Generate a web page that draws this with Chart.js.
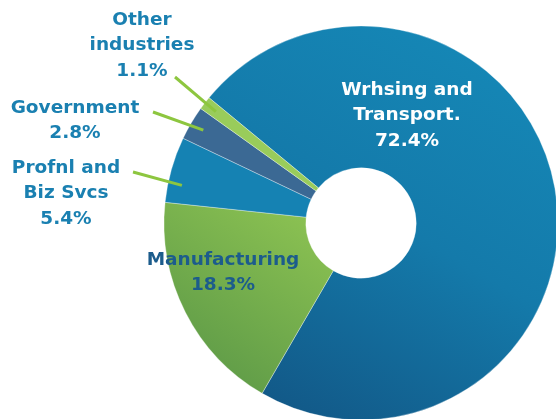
<!DOCTYPE html>
<html>
<head>
<meta charset="utf-8">
<script src="https://cdn.jsdelivr.net/npm/chart.js@4"></script>
<style>
  html, body { margin: 0; padding: 0; background: #fff; overflow: hidden; }
  #wrap { position: absolute; left: 0; top: 0; width: 600px; height: 446px; }
</style>
</head>
<body>
<div id="wrap"><canvas id="pie" width="600" height="446"></canvas></div>
<script>
// values (percent of total)
const categories = ["Wrhsing and Transport.", "Manufacturing", "Profnl and Biz Svcs", "Government", "Other industries"];
const shares = [72.4, 18.3, 5.4, 2.8, 1.1];
const labelLines = [
  ["Wrhsing and", "Transport.", "72.4%"],
  ["Manufacturing", "18.3%"],
  ["Profnl and", "Biz Svcs", "5.4%"],
  ["Government", "2.8%"],
  ["Other", "industries", "1.1%"],
];

const FONT = "bold 18.5px 'DejaVu Sans'";
const TEXT_BLUE = "#1a80b1";
const LEADER = "#8dc63f";

// where each label sits; leader = [text-side x, y, fraction along slice]
const labelLayout = [
  { x: 407, y: 90, color: "#ffffff" },
  { x: 223, y: 260, color: "#1c5c8c" },
  { x: 66, y: 168, color: TEXT_BLUE, leader: [133, 172, 0.3] },
  { x: 75, y: 108, color: TEXT_BLUE, leader: [153, 112, 0.5] },
  { x: 142, y: 20, color: TEXT_BLUE, leader: [175, 77, 0.5] },
];

function sliceFill(ctx) {
  const c = ctx.chart.ctx;
  const i = ctx.dataIndex;
  if (i === 0) {
    const g = c.createLinearGradient(490, 70, 290, 420);
    g.addColorStop(0, "#1586b5");
    g.addColorStop(0.45, "#147aaa");
    g.addColorStop(1, "#125887");
    return g;
  }
  if (i === 1) {
    const g = c.createLinearGradient(320, 220, 200, 390);
    g.addColorStop(0, "#8cc252");
    g.addColorStop(1, "#5b9847");
    return g;
  }
  return ["#1582b3", "#3b6994", "#99cc5b"][i - 2];
}

const labelPlugin = {
  id: "sliceLabels",
  afterDatasetsDraw(chart) {
    const c = chart.ctx;
    const arcs = chart.getDatasetMeta(0).data;
    c.save();
    labelLayout.forEach((l, i) => {
      const arc = arcs[i];
      if (l.leader) {
        const p = arc.getProps(["x", "y", "startAngle", "endAngle", "outerRadius"], true);
        const a = p.startAngle + (p.endAngle - p.startAngle) * l.leader[2];
        const r = p.outerRadius - 14;
        c.strokeStyle = LEADER;
        c.lineWidth = 3;
        c.beginPath();
        c.moveTo(l.leader[0], l.leader[1]);
        c.lineTo(p.x + Math.cos(a) * r, p.y + Math.sin(a) * r);
        c.stroke();
      }
      c.font = FONT;
      c.fillStyle = l.color;
      c.textAlign = "center";
      c.textBaseline = "middle";
      labelLines[i].forEach((t, k) => c.fillText(t, l.x, l.y + k * 25.5));
    });
    c.restore();
  }
};

new Chart(document.getElementById("pie"), {
  type: "doughnut",
  data: {
    labels: categories,
    datasets: [{
      data: shares,
      backgroundColor: sliceFill,
      borderWidth: 0.6,
      borderColor: "rgba(255,255,255,0.55)",
    }],
  },
  options: {
    responsive: false,
    animation: false,
    devicePixelRatio: 1,
    rotation: -50.5,
    radius: 197,
    cutout: "28%",
    layout: { padding: { left: 122, top: 0, right: 0, bottom: 0 } },
    plugins: {
      legend: { display: false },
      tooltip: { enabled: false },
    },
  },
  plugins: [labelPlugin],
});
</script>
</body>
</html>
